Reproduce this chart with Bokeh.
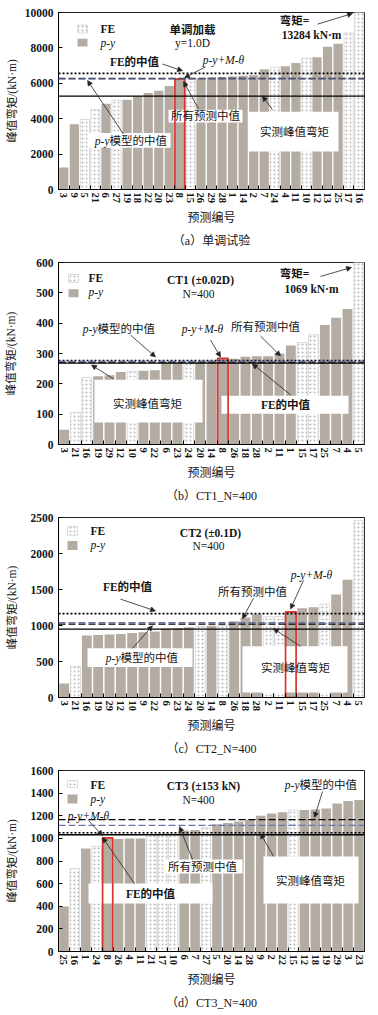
import math
from bokeh.plotting import figure
from bokeh.layouts import column
from bokeh.models import (Range1d, FixedTicker, Span, Label, Arrow, NormalHead,
                          Title, ColumnDataSource)
from bokeh.embed import file_html
from bokeh.resources import INLINE

# ---------------- data ----------------
A_ids = ["3", "9", "5", "21", "6", "27", "19", "18", "22", "20", "23", "8", "15", "26", "29",
         "28", "1", "14", "2", "7", "24", "4", "11", "10", "12", "13", "25", "17", "16"]
A_vals = [1240, 3690, 3960, 4510, 4840, 5050, 5070, 5270, 5450, 5580, 5850, 6240, 6250, 6290, 6330,
          6350, 6380, 6420, 6450, 6800, 6910, 6960, 7150, 7420, 7470, 8070, 8240, 8840, 13284]
A_kind = ["p-y", "p-y", "FE", "FE", "p-y", "FE", "p-y", "p-y", "p-y", "p-y", "p-y", "p-y+M-θ", "FE", "p-y", "p-y",
          "p-y", "p-y", "p-y", "p-y", "p-y", "FE", "p-y", "p-y", "FE", "p-y", "p-y", "p-y", "FE", "FE"]
A_medians = {"measured": 5270, "fe": 6560, "py": 6270, "all": 6250}
A_yticks = [0, 2000, 4000, 6000, 8000, 10000]

B_ids = ["3", "21", "16", "19", "29", "12", "10", "9", "22", "6", "23", "24", "20", "14", "8",
         "26", "18", "28", "2", "11", "1", "15", "17", "25", "7", "4", "5"]
B_vals = [49, 106, 221, 225, 228, 239, 241, 243, 245, 272, 273, 266, 274, 276, 284,
          283, 289, 291, 291, 300, 326, 336, 362, 394, 418, 447, 1069]
B_kind = ["p-y", "FE", "FE", "p-y", "p-y", "p-y", "FE", "p-y", "p-y", "p-y", "p-y", "FE", "p-y", "p-y", "p-y+M-θ",
          "p-y", "p-y", "p-y", "p-y", "p-y", "p-y", "FE", "FE", "p-y", "p-y", "p-y", "FE"]
B_medians = {"measured": 268, "fe": 277, "py": 272, "all": 274}
B_yticks = [0, 100, 200, 300, 400, 500, 600]

C_ids = ["3", "21", "16", "19", "29", "12", "10", "9", "22", "6", "23", "24", "20", "14", "8",
         "26", "18", "28", "2", "11", "1", "15", "17", "25", "7", "4", "5"]
C_vals = [194, 432, 860, 869, 874, 883, 896, 905, 915, 960, 965, 975, 985, 995, 1000,
          1060, 1112, 1155, 1120, 1125, 1189, 1239, 1252, 1297, 1432, 1635, 2460]
C_kind = ["p-y", "FE", "p-y", "p-y", "p-y", "p-y", "p-y", "p-y", "p-y", "p-y", "p-y", "p-y", "FE", "p-y", "FE",
          "p-y", "p-y", "p-y", "FE", "FE", "p-y+M-θ", "p-y", "p-y", "FE", "p-y", "p-y", "FE"]
C_medians = {"measured": 950, "fe": 1165, "py": 1018, "all": 1040}
C_yticks = [0, 500, 1000, 1500, 2000, 2500]

D_ids = ["25", "16", "1", "24", "8", "26", "4", "11", "21", "17", "10", "6", "7", "27", "5",
         "20", "14", "28", "9", "2", "22", "15", "12", "18", "19", "29", "3", "23"]
D_vals = [397, 733, 911, 928, 1005, 995, 1000, 1000, 1035, 1040, 1045, 1069, 1075, 1092, 1125,
          1135, 1150, 1165, 1200, 1220, 1230, 1250, 1250, 1255, 1264, 1308, 1331, 1340]
D_kind = ["p-y", "FE", "p-y", "FE", "p-y+M-θ", "p-y", "p-y", "p-y", "FE", "FE", "FE", "p-y", "p-y", "FE", "p-y",
          "p-y", "p-y", "p-y", "p-y", "p-y", "p-y", "FE", "p-y", "p-y", "p-y", "p-y", "p-y", "p-y"]
D_medians = {"measured": 1032, "fe": 1050, "py": 1165, "all": 1115}
D_yticks = [0, 200, 400, 600, 800, 1000, 1200, 1400, 1600]

# ---------------- styles ----------------
SERIF = "'Liberation Serif', 'Noto Sans CJK SC'"
GREY = "#b4aba3"
RED = "#d8352a"
BLUE = "#6b74a8"
TXT = "#151515"
HATCH = dict(hatch_pattern="dot", hatch_color="#b8b8b8", hatch_scale=4.0, hatch_weight=0.7)

LINE_STYLE = {
    "measured": dict(line_color="black", line_width=1.3, line_dash="solid"),
    "fe": dict(line_color="black", line_width=1.6, line_dash="2 2"),
    "py": dict(line_color="black", line_width=1.3, line_dash="7 3"),
    "all": dict(line_color=BLUE, line_width=1.3, line_dash="7 3"),
}


def build(ids, vals, kinds, yticks, medians, fig_top, frame, fig_h, caption, ann):
    L, R, T, B = frame
    N = len(ids)
    ymax = yticks[-1]

    def X(px):
        return 0.5 + (px - L) / (R - L) * N

    def Y(py):
        return (B - py) / (B - T) * ymax

    p = figure(width=378, height=fig_h, x_range=Range1d(0.5, N + 0.5), y_range=Range1d(0, ymax),
               output_backend="svg", toolbar_location=None,
               min_border_left=L, min_border_right=378 - R,
               min_border_top=T - fig_top, min_border_bottom=fig_top + fig_h - B)
    p.xgrid.visible = False
    p.ygrid.visible = False
    p.outline_line_color = "#222222"
    p.outline_line_width = 1
    p.background_fill_color = "white"
    p.border_fill_color = "white"

    xs = list(range(1, N + 1))
    py_idx = [i for i, k in enumerate(kinds) if k != "FE"]
    fe_idx = [i for i, k in enumerate(kinds) if k == "FE"]
    pm_idx = [i for i, k in enumerate(kinds) if k == "p-y+M-θ"]

    src_py = ColumnDataSource(dict(x=[xs[i] for i in py_idx], top=[vals[i] for i in py_idx]))
    src_fe = ColumnDataSource(dict(x=[xs[i] for i in fe_idx], top=[vals[i] for i in fe_idx]))
    src_pm = ColumnDataSource(dict(x=[xs[i] for i in pm_idx], top=[vals[i] for i in pm_idx]))

    W = 0.87
    p.vbar(x="x", top="top", width=W, source=src_py, fill_color=GREY, line_color=None)
    p.vbar(x="x", top="top", width=W, source=src_fe, fill_color="white", line_color="#d0d0d0",
           line_width=0.8, **HATCH)

    # white annotation boxes
    for (x0, y0, x1, y1) in ann.get("boxes", []):
        p.quad(left=X(x0), right=X(x1), top=Y(y0), bottom=Y(y1), fill_color="white",
               line_color=None)

    # p-y+M-theta highlighted outline
    p.vbar(x="x", top="top", width=W + 0.06, source=src_pm, fill_color=None,
           line_color=RED, line_width=1.7)

    # legend swatches
    sw = ann["swatch"]
    x0, y0, x1, y1 = sw["FE"]
    p.quad(left=X(x0), right=X(x1), top=Y(y0), bottom=Y(y1), fill_color="white",
           line_color="#d0d0d0", line_width=0.8, **HATCH)
    x0, y0, x1, y1 = sw["p-y"]
    p.quad(left=X(x0), right=X(x1), top=Y(y0), bottom=Y(y1), fill_color=GREY, line_color=None)

    # median lines
    for key in ["measured", "fe", "py", "all"]:
        p.add_layout(Span(location=medians[key], dimension="width", **LINE_STYLE[key]))

    # arrows
    for (sx, sy, ex, ey) in ann.get("arrows", []):
        p.add_layout(Arrow(end=NormalHead(size=5, line_color="#222222", fill_color="#222222",
                                          line_width=0.6),
                           x_start=X(sx), y_start=Y(sy), x_end=X(ex), y_end=Y(ey),
                           line_color="#222222", line_width=0.8))

    # texts
    for t in ann.get("texts", []):
        txt, px, py_, align, style = t[:5]
        size = t[5] if len(t) > 5 else "11.5px"
        p.add_layout(Label(x=X(px), y=Y(py_), text=txt, text_align=align,
                           text_baseline="middle", text_font=SERIF, text_font_size=size,
                           text_font_style=style, text_color=TXT))

    # axes
    ya = p.yaxis[0]
    ya.ticker = FixedTicker(ticks=yticks, minor_ticks=[])
    ya.major_label_text_font = SERIF
    ya.major_label_text_font_style = "bold"
    ya.major_label_text_font_size = "11.5px"
    ya.major_label_text_color = TXT
    ya.major_tick_in = 4
    ya.major_tick_out = 0
    ya.minor_tick_in = 0
    ya.minor_tick_out = 0
    ya.major_label_standoff = 5
    ya.axis_label = "峰值弯矩/(kN·m)"
    ya.axis_label_text_font = SERIF
    ya.axis_label_text_font_style = "normal"
    ya.axis_label_text_font_size = "11.5px"
    ya.axis_label_text_color = TXT
    nd = len(str(yticks[-1]))
    ya.axis_label_standoff = int(round(45 - 5 - 7 - 5.75 * nd))

    xa = p.xaxis[0]
    xa.ticker = FixedTicker(ticks=xs, minor_ticks=[k + 0.5 for k in range(1, N)])
    xa.major_label_overrides = {xs[i]: ids[i] for i in range(N)}
    xa.major_label_orientation = -math.pi / 2
    xa.major_label_text_font = SERIF
    xa.major_label_text_font_style = "bold"
    xa.major_label_text_font_size = "10.5px"
    xa.major_label_text_color = TXT
    xa.major_label_standoff = 3
    xa.major_tick_in = 0
    xa.major_tick_out = 0
    xa.minor_tick_in = 4
    xa.minor_tick_out = 0
    xa.axis_label = "预测编号"
    xa.axis_label_text_font = SERIF
    xa.axis_label_text_font_style = "normal"
    xa.axis_label_text_font_size = "12px"
    xa.axis_label_text_color = TXT
    xa.axis_label_standoff = 5

    p.add_layout(Title(text=caption, align="center", text_font=SERIF, text_font_size="12px",
                       text_font_style="normal", text_color=TXT, standoff=6), "below")
    return p


# ---------------- annotation layouts (page pixels) ----------------
ANN_A = dict(
    swatch={"FE": (77, 25, 87, 33), "p-y": (77, 39, 87, 47)},
    boxes=[(168, 112, 242, 125), (248, 114, 338, 155), (88, 136, 170, 151)],
    arrows=[(317, 24, 352, 13), (162, 65, 182, 72), (205, 68, 184, 79),
            (198, 111, 183, 83), (272, 112, 262, 98), (123, 137, 87, 82)],
    texts=[("FE", 100, 29, "left", "bold"), ("p-y", 100, 43, "left", "italic"),
           ("单调加载", 192, 30, "center", "bold"), ("y=1.0D", 192, 43, "center", "normal"),
           ("弯矩=", 294, 21, "center", "bold"), ("13284 kN·m", 311, 35, "center", "bold"),
           ("FE的中值", 134, 63, "center", "bold"), ("p-y+M-θ", 223, 61, "center", "italic"),
           ("所有预测中值", 205, 118, "center", "normal"),
           ("实测峰值弯矩", 294, 135, "center", "normal"),
           ("p-y", 109, 144, "right", "italic"), ("模型的中值", 109, 144, "left", "normal")],
)
ANN_B = dict(
    swatch={"FE": (68, 274, 78, 282), "p-y": (68, 289, 78, 297)},
    boxes=[(94, 380, 202, 423), (221, 396, 348, 414)],
    arrows=[(320, 276, 351, 267), (130, 335, 155, 357), (210, 340, 220, 357),
            (260, 336, 280, 356), (113, 379, 91, 365), (290, 395, 252, 364)],
    texts=[("FE", 88, 278, "left", "bold"), ("p-y", 88, 292, "left", "italic"),
           ("CT1 (±0.02D)", 200, 280, "center", "bold"), ("N=400", 198, 294, "center", "normal"),
           ("弯矩=", 294, 274, "center", "bold"), ("1069 kN·m", 311, 289, "center", "bold"),
           ("p-y", 97, 329, "right", "italic"), ("模型的中值", 97, 329, "left", "normal"),
           ("p-y+M-θ", 202, 329, "center", "italic"),
           ("所有预测中值", 265, 327, "center", "normal"),
           ("实测峰值弯矩", 147, 404, "center", "normal"),
           ("FE的中值", 285, 405, "center", "bold")],
)
ANN_C = dict(
    swatch={"FE": (67, 526, 77, 535), "p-y": (67, 541, 77, 550)},
    boxes=[(87, 650, 192, 669), (242, 648, 347, 695)],
    arrows=[(120, 600, 155, 612), (253, 599, 242, 620), (303, 581, 290, 610),
            (132, 650, 152, 627), (300, 648, 273, 630)],
    texts=[("FE", 90, 531, "left", "bold"), ("p-y", 90, 545, "left", "italic"),
           ("CT2 (±0.1D)", 210, 533, "center", "bold"), ("N=400", 208, 546, "center", "normal"),
           ("FE的中值", 127, 588, "center", "bold"),
           ("所有预测中值", 252, 593, "center", "normal"),
           ("p-y+M-θ", 311, 575, "center", "italic"),
           ("p-y", 120, 660, "right", "italic"), ("模型的中值", 120, 660, "left", "normal"),
           ("实测峰值弯矩", 295, 670, "center", "normal")],
)
ANN_D = dict(
    swatch={"FE": (67, 780, 77, 787), "p-y": (67, 794, 77, 803)},
    boxes=[(163, 859, 242, 873), (88, 883, 212, 903), (263, 856, 358, 903)],
    arrows=[(322, 791, 314, 817), (88, 820, 102, 835), (192, 859, 179, 826),
            (134, 883, 102, 837), (273, 856, 260, 833)],
    texts=[("FE", 90, 784, "left", "bold"), ("p-y", 90, 798, "left", "italic"),
           ("CT3 (±153 kN)", 203, 785, "center", "bold"), ("N=400", 198, 799, "center", "normal"),
           ("p-y", 299, 784, "right", "italic"), ("模型的中值", 299, 784, "left", "normal"),
           ("p-y+M-θ", 88, 815, "center", "italic"),
           ("所有预测中值", 202, 866, "center", "normal"),
           ("FE的中值", 150, 893, "center", "bold"),
           ("实测峰值弯矩", 310, 880, "center", "normal")],
)

pa = build(A_ids, A_vals, A_kind, A_yticks, A_medians, 0, (58, 364, 12, 194), 250,
           "（a）单调试验", ANN_A)
pb = build(B_ids, B_vals, B_kind, B_yticks, B_medians, 250, (58, 364, 262, 445), 255,
           "（b）CT1_N=400", ANN_B)
pc = build(C_ids, C_vals, C_kind, C_yticks, C_medians, 505, (58, 364, 517, 700), 253,
           "（c）CT2_N=400", ANN_C)
pd_ = build(D_ids, D_vals, D_kind, D_yticks, D_medians, 758, (58, 364, 770, 951), 257,
            "（d）CT3_N=400", ANN_D)

layout = column(pa, pb, pc, pd_, spacing=0)
open("out.html", "w").write(file_html(layout, INLINE))
